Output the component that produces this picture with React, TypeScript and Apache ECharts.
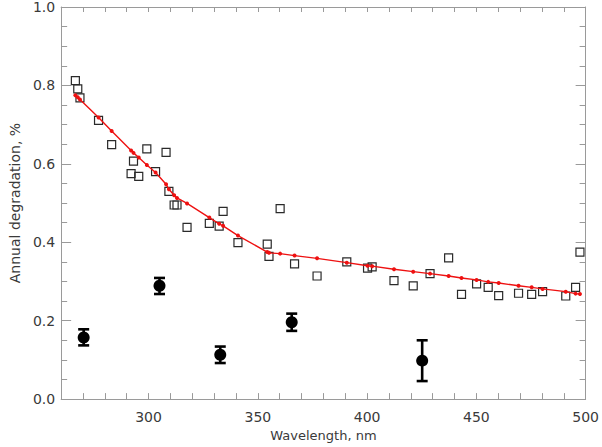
import React, { useEffect, useRef } from "react";
import * as echarts from "echarts";

const wavelengths = [
  266.5, 267.6, 268.6, 277.1, 283.1, 292.0, 293.1, 295.5, 299.2, 303.2, 308.0,
  309.3, 311.7, 313.0, 317.6, 327.8, 332.3, 334.1, 340.9, 354.3, 355.1, 360.2,
  366.8, 377.1, 390.7, 400.2, 402.3, 412.3, 421.1, 428.8, 437.3, 443.2, 450.1,
  455.4, 460.2, 469.3, 475.3, 480.3, 490.9, 495.4, 497.4,
];
const observed = [
  0.812, 0.791, 0.768, 0.711, 0.649, 0.575, 0.607, 0.568, 0.638, 0.58, 0.629,
  0.53, 0.495, 0.495, 0.438, 0.448, 0.441, 0.479, 0.399, 0.395, 0.364, 0.486,
  0.345, 0.314, 0.35, 0.334, 0.337, 0.302, 0.289, 0.32, 0.36, 0.267, 0.294,
  0.285, 0.264, 0.27, 0.267, 0.274, 0.263, 0.285, 0.375,
];
const model = [
  0.775, 0.77, 0.764, 0.718, 0.684, 0.634, 0.628, 0.616, 0.597, 0.578, 0.548,
  0.535, 0.52, 0.513, 0.499, 0.463, 0.447, 0.442, 0.417, 0.375, 0.373, 0.371,
  0.366, 0.359, 0.348, 0.34, 0.339, 0.331, 0.325, 0.32, 0.314, 0.309, 0.304,
  0.299, 0.296, 0.289, 0.285, 0.281, 0.274, 0.269, 0.268,
];
const pointWavelengths = [270.3, 305.0, 332.8, 365.5, 425.2];
const pointValues = [0.157, 0.289, 0.113, 0.196, 0.098];
const pointLow = [0.137, 0.268, 0.092, 0.174, 0.046];
const pointHigh = [0.178, 0.309, 0.134, 0.218, 0.15];

const xTicks = [300, 350, 400, 450, 500];
const yTicks = [0.0, 0.2, 0.4, 0.6, 0.8, 1.0];

const AXIS = "#9a9a9a";
const TEXT = "#3a3a3a";
const FONT = "DejaVu Sans";

export default function App() {
  const ref = useRef<HTMLDivElement>(null);
  useEffect(() => {
    if (!ref.current) return;
    const chart = echarts.init(ref.current, undefined, { renderer: "svg" });
    const axisLine = { show: true, onZero: false, lineStyle: { color: AXIS, width: 1 } };
    chart.setOption({
      animation: false,
      backgroundColor: "#ffffff",
      grid: { left: 57.5, right: 14.5, top: 4.5, bottom: 45, containLabel: false },
      xAxis: [
        {
          type: "value",
          min: 260,
          max: 500,
          interval: 10,
          position: "bottom",
          axisLine,
          splitLine: { show: false },
          axisTick: { show: true, inside: true, length: 6, lineStyle: { color: AXIS } },
          axisLabel: {
            color: TEXT,
            fontSize: 14,
            fontFamily: FONT,
            margin: 11,
            formatter: (v: number) => (xTicks.includes(v) ? String(v) : ""),
          },
          name: "Wavelength, nm",
          nameLocation: "middle",
          nameGap: 29,
          nameTextStyle: { color: TEXT, fontSize: 13, fontFamily: FONT },
        },
        {
          type: "value",
          min: 260,
          max: 500,
          interval: 10,
          position: "top",
          axisLine,
          splitLine: { show: false },
          axisTick: { show: true, inside: true, length: 5, lineStyle: { color: AXIS } },
          axisLabel: { show: false },
        },
      ],
      yAxis: [
        {
          type: "value",
          min: 0,
          max: 1,
          interval: 0.2,
          position: "left",
          axisLine,
          splitLine: { show: false },
          axisTick: { show: true, inside: true, length: 10, lineStyle: { color: AXIS } },
          minorTick: { show: true, splitNumber: 4, length: 6, lineStyle: { color: AXIS } },
          axisLabel: {
            color: TEXT,
            fontSize: 14,
            fontFamily: FONT,
            margin: 6,
            formatter: (v: number) => v.toFixed(1),
          },
          name: "Annual degradation, %",
          nameLocation: "middle",
          nameGap: 38,
          nameTextStyle: { color: TEXT, fontSize: 14, fontFamily: FONT },
        },
        {
          type: "value",
          min: 0,
          max: 1,
          interval: 0.2,
          position: "right",
          axisLine,
          splitLine: { show: false },
          axisTick: { show: true, inside: true, length: 10, lineStyle: { color: AXIS } },
          minorTick: { show: true, splitNumber: 4, length: 6, lineStyle: { color: AXIS } },
          axisLabel: { show: false },
        },
      ],
      series: [
        {
          type: "scatter",
          xAxisIndex: 0,
          yAxisIndex: 0,
          symbol: "rect",
          symbolSize: 8,
          itemStyle: { color: "rgba(255,255,255,0)", borderColor: "#2a2a2a", borderWidth: 1.2, opacity: 1 },
          data: wavelengths.map((w, i) => [w, observed[i]]),
          z: 2,
        },
        {
          type: "line",
          xAxisIndex: 0,
          yAxisIndex: 0,
          symbol: "circle",
          symbolSize: 4,
          showSymbol: true,
          lineStyle: { color: "#ee1111", width: 1.4 },
          itemStyle: { color: "#ee1111" },
          data: wavelengths.map((w, i) => [w, model[i]]),
          z: 3,
        },
        {
          type: "custom",
          xAxisIndex: 0,
          yAxisIndex: 0,
          data: pointWavelengths.map((w, i) => [w, pointLow[i], pointHigh[i]]),
          renderItem: (params: any, api: any) => {
            const x = api.value(0);
            const lo = api.coord([x, api.value(1)]);
            const hi = api.coord([x, api.value(2)]);
            const hw = 5.5;
            const style = { stroke: "#000000", lineWidth: 2.6 };
            return {
              type: "group",
              children: [
                { type: "line", shape: { x1: lo[0], y1: lo[1], x2: hi[0], y2: hi[1] }, style },
                { type: "line", shape: { x1: lo[0] - hw, y1: lo[1], x2: lo[0] + hw, y2: lo[1] }, style },
                { type: "line", shape: { x1: hi[0] - hw, y1: hi[1], x2: hi[0] + hw, y2: hi[1] }, style },
              ],
            };
          },
          z: 4,
        },
        {
          type: "scatter",
          xAxisIndex: 0,
          yAxisIndex: 0,
          symbol: "circle",
          symbolSize: 12,
          itemStyle: { color: "#000000", opacity: 1 },
          data: pointWavelengths.map((w, i) => [w, pointValues[i]]),
          z: 5,
        },
      ],
    });
    return () => chart.dispose();
  }, []);
  return <div ref={ref} style={{ width: 602, height: 447, position: "absolute", left: 0, top: 0 }} />;
}
